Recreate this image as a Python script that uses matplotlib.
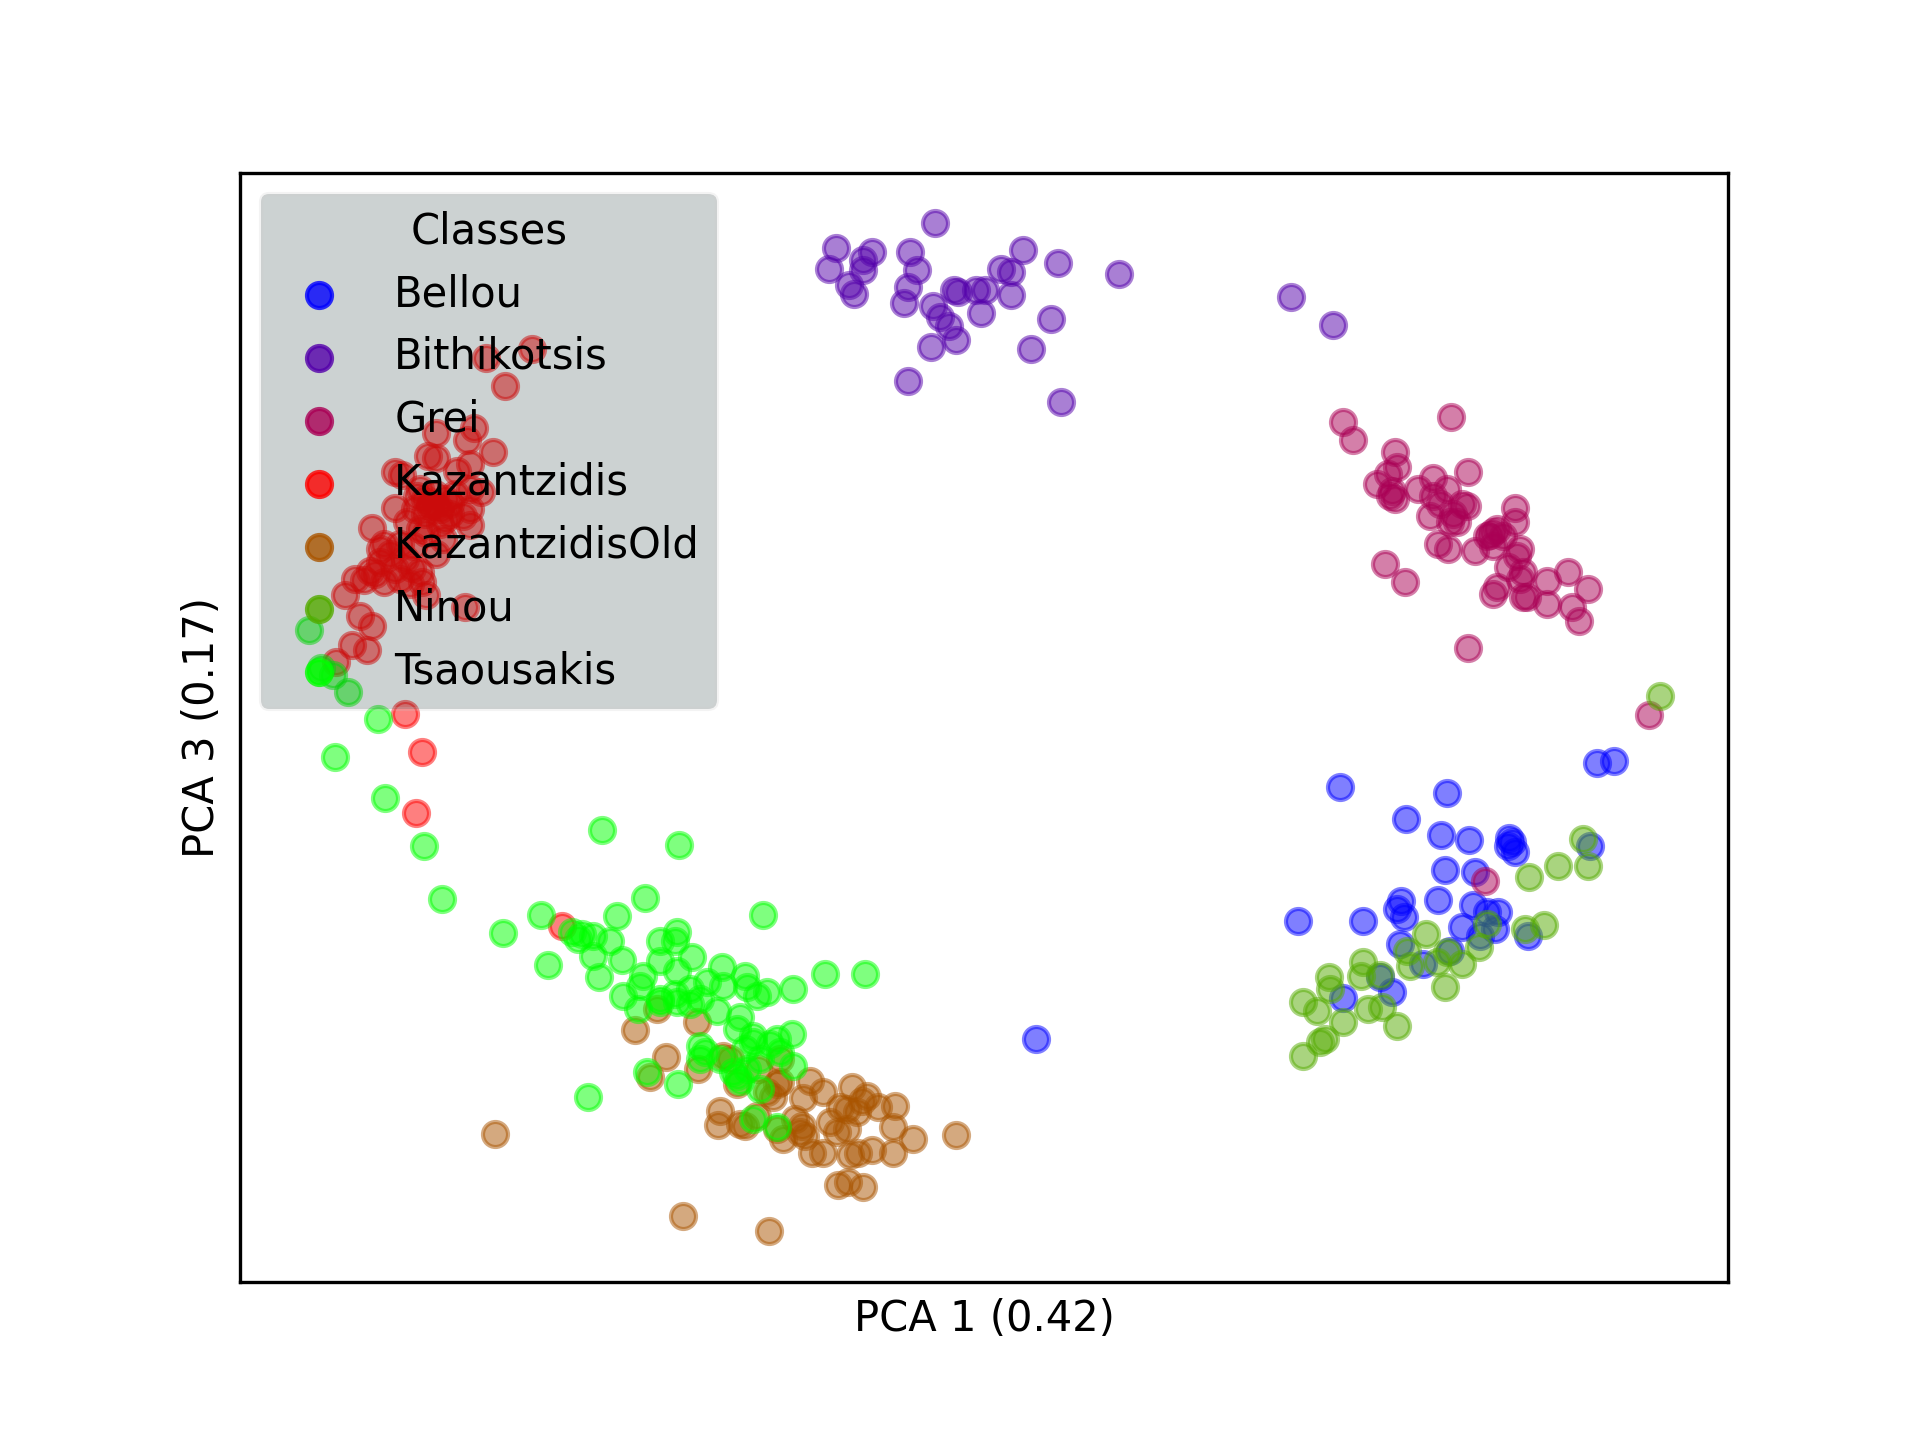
import matplotlib
matplotlib.use("Agg")
import matplotlib.pyplot as plt
import numpy as np

# class names, in plotting order
classes = ["Bellou", "Bithikotsis", "Grei", "Kazantzidis",
           "KazantzidisOld", "Ninou", "Tsaousakis"]

# PCA scores (x = PC1, y = PC3, screen-like units, y grows downward)
bellou = [(1340, 788), (1447, 794), (1406, 820), (1441, 836), (1469, 841), (1509, 839),
          (1508, 847), (1515, 853), (1512, 843), (1597, 764), (1614, 762), (1445, 871),
          (1475, 873), (1438, 901), (1401, 902), (1397, 910), (1404, 918), (1298, 922),
          (1363, 922), (1473, 906), (1487, 913), (1498, 913), (1462, 928), (1495, 930),
          (1480, 937), (1590, 847), (1528, 937), (1400, 945), (1423, 965), (1450, 952),
          (1380, 978), (1392, 993), (1343, 999), (1036, 1040)]

bithikotsis = [(935, 224), (836, 249), (872, 253), (829, 270), (863, 261), (863, 271),
               (849, 286), (854, 295), (910, 253), (917, 271), (908, 288), (904, 304),
               (933, 307), (940, 318), (949, 327), (956, 341), (931, 348), (954, 291),
               (958, 293), (976, 291), (985, 291), (981, 314), (1001, 270), (1011, 273),
               (1011, 296), (1023, 251), (1058, 264), (1051, 320), (1031, 350), (1119, 275),
               (908, 382), (1061, 403), (1291, 298), (1333, 326)]

grei = [(1343, 423), (1353, 441), (1451, 418), (1395, 453), (1397, 468), (1388, 475),
        (1377, 485), (1392, 492), (1395, 500), (1390, 497), (1418, 490), (1433, 479),
        (1447, 490), (1433, 497), (1440, 505), (1430, 517), (1468, 473), (1462, 505),
        (1467, 507), (1453, 515), (1457, 523), (1450, 523), (1438, 545), (1448, 550),
        (1475, 552), (1515, 509), (1515, 523), (1493, 533), (1497, 530), (1490, 536),
        (1487, 537), (1503, 537), (1493, 547), (1520, 550), (1517, 557), (1508, 568),
        (1523, 573), (1520, 580), (1497, 588), (1493, 595), (1523, 598), (1527, 598),
        (1547, 582), (1547, 605), (1568, 573), (1588, 590), (1572, 608), (1579, 622),
        (1385, 565), (1405, 583), (1468, 649), (1649, 716), (1485, 882)]

kazantzidis = [(532, 350), (486, 359), (505, 387), (474, 429), (436, 434), (467, 441),
               (493, 453), (436, 459), (470, 465), (457, 472), (402, 476), (481, 493),
               (436, 507), (470, 510), (395, 509), (470, 526), (372, 529), (384, 545),
               (426, 534), (436, 555), (412, 569), (384, 583), (364, 581), (422, 583),
               (426, 596), (465, 608), (345, 596), (360, 617), (372, 627), (352, 646),
               (367, 651), (336, 663), (405, 715), (395, 473), (428, 457), (470, 490),
               (463, 517), (430, 507), (417, 497), (407, 523), (380, 563), (370, 572),
               (355, 580), (400, 580), (420, 573), (443, 540), (413, 547), (445, 500),
               (450, 515), (425, 515), (440, 525), (455, 495), (420, 490), (430, 505),
               (440, 510), (425, 500), (445, 520), (435, 495), (415, 510), (450, 505),
               (420, 530), (400, 545), (390, 555), (380, 550), (395, 570), (405, 560),
               (375, 575), (410, 585), (422, 753), (416, 814), (562, 927)]

kazantzidis_old = [(635, 1031), (657, 1010), (697, 1023), (666, 1058), (698, 1070), (650, 1078),
                   (723, 1057), (780, 1060), (780, 1083), (810, 1082), (823, 1093), (852, 1088),
                   (867, 1097), (767, 1093), (495, 1135), (683, 1216), (769, 1231), (720, 1112),
                   (718, 1126), (740, 1125), (745, 1127), (737, 1085), (773, 1098), (777, 1085),
                   (803, 1099), (862, 1102), (840, 1108), (847, 1110), (878, 1108), (895, 1107),
                   (893, 1128), (913, 1140), (893, 1153), (872, 1150), (858, 1153), (850, 1155),
                   (823, 1153), (812, 1153), (800, 1133), (802, 1127), (795, 1120), (805, 1137),
                   (783, 1140), (830, 1123), (837, 1133), (847, 1130), (857, 1113), (838, 1185),
                   (848, 1182), (863, 1187), (956, 1136), (757, 1117), (777, 1130), (758, 1070),
                   (730, 1060)]

ninou = [(1660, 697), (1583, 840), (1588, 867), (1558, 867), (1529, 878), (1544, 926),
         (1525, 930), (1487, 925), (1479, 948), (1426, 935), (1407, 952), (1410, 967),
         (1437, 963), (1447, 953), (1462, 965), (1445, 988), (1363, 963), (1361, 977),
         (1380, 976), (1329, 978), (1330, 990), (1303, 1003), (1317, 1012), (1343, 1023),
         (1368, 1010), (1382, 1008), (1397, 1027), (1325, 1040), (1320, 1043), (1303, 1057)]

tsaousakis = [(309, 631), (321, 669), (333, 676), (348, 693), (378, 720), (335, 758),
              (385, 799), (424, 847), (442, 900), (503, 934), (541, 916), (548, 966),
              (602, 831), (679, 846), (645, 899), (617, 917), (572, 933), (578, 940),
              (593, 937), (610, 942), (593, 957), (622, 961), (599, 978), (763, 916),
              (582, 935), (660, 942), (677, 933), (675, 942), (660, 962), (692, 958),
              (677, 972), (643, 977), (640, 987), (623, 997), (638, 1010), (660, 1003),
              (677, 1003), (690, 990), (690, 1005), (707, 983), (722, 968), (723, 987),
              (717, 1012), (745, 977), (747, 988), (757, 997), (767, 993), (793, 990),
              (825, 975), (865, 975), (740, 1018), (737, 1030), (753, 1037), (777, 1040),
              (792, 1035), (700, 1047), (705, 1053), (700, 1060), (733, 1073), (747, 1070),
              (780, 1053), (793, 1067), (647, 1073), (678, 1085), (740, 1082), (760, 1090),
              (588, 1098), (753, 1120), (777, 1128), (737, 1077), (753, 1043), (660, 1000),
              (675, 995), (700, 1000), (745, 1050), (760, 1060), (770, 1045), (720, 1060)]

groups = [bellou, bithikotsis, grei, kazantzidis, kazantzidis_old, ninou, tsaousakis]

cmap = plt.get_cmap("brg")
colors = [cmap(i / (len(classes) - 1)) for i in range(len(classes))]

fig, ax = plt.subplots(figsize=(6.4, 4.8), dpi=300)

for name, pts, col in zip(classes, groups, colors):
    arr = np.array(pts)
    ax.scatter(arr[:, 0], arr[:, 1], color=col, alpha=0.5, label=name)

ax.set_xlim(240, 1728)
ax.set_ylim(1282, 174)
ax.set_xticks([])
ax.set_yticks([])
ax.set_xlabel("PCA 1 (0.42)")
ax.set_ylabel("PCA 3 (0.17)")

leg = ax.legend(title="Classes", loc="upper left",
                facecolor=(0.1, 0.2, 0.2), framealpha=0.22)
for h in leg.legend_handles:
    h.set_alpha(0.8)

fig.savefig("out.png", dpi=300)
